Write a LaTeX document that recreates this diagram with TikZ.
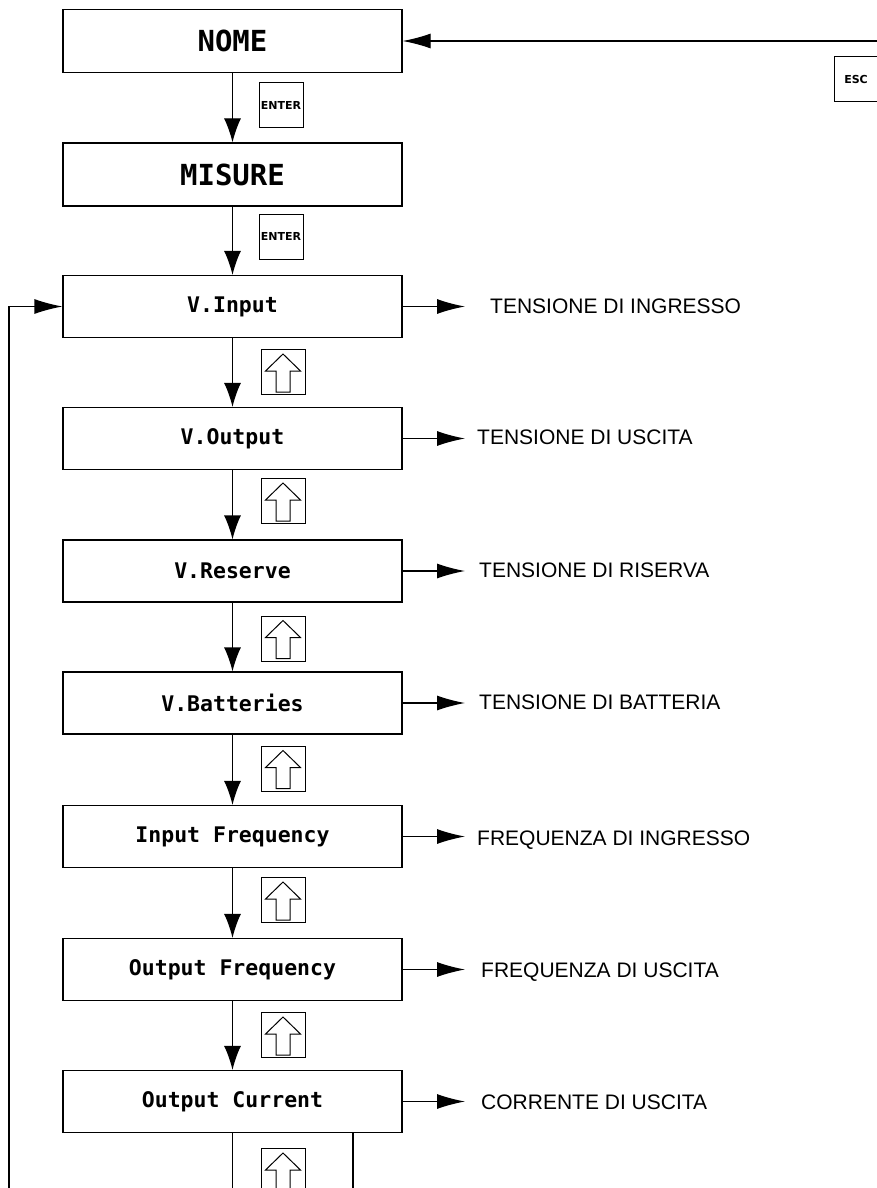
\documentclass[tikz,border=0pt]{standalone}
\usepackage{fontspec}
\setmainfont{Liberation Sans}
\newfontfamily\boxfont{DejaVu Sans Mono}
\newfontfamily\keyfont{DejaVu Sans}
\usetikzlibrary{arrows.meta}
\tikzset{
  box/.style={draw, line width=1.2pt, minimum width=339pt, minimum height=62pt, inner sep=0pt},
  bigtxt/.style={font=\boxfont\bfseries\fontsize{29}{29}\selectfont},
  smalltxt/.style={font=\boxfont\bfseries\fontsize{21.5}{21.5}\selectfont},
  keybox/.style={draw, line width=1pt, minimum width=44pt, minimum height=45pt, inner sep=0pt,
                 font=\keyfont\bfseries\fontsize{11}{11}\selectfont},
  lbl/.style={anchor=west, inner sep=0pt, text height=15pt, text depth=0pt,
              font=\fontsize{21}{21}\selectfont},
  conn/.style={line width=1.2pt},
  varr/.style={conn, -{Latex[length=24pt,width=17pt]}},
  harr/.style={conn, -{Latex[length=28pt,width=15pt]}},
  upicon/.pic={\draw[line width=1pt] (-7,20) -- (-7,-1) -- (-17.5,-1) -- (0,-18) -- (17.5,-1) -- (7,-1) -- (7,20) -- cycle;}
}
\begin{document}
\begin{tikzpicture}[x=1pt,y=-1pt]
\useasboundingbox (0,0) rectangle (877,1188);
\clip (0,0) rectangle (877,1188);
\fill[white] (0,0) rectangle (877,1188);

% main boxes
\node[box, minimum height=63pt, bigtxt] (nome) at (232.5,41) {NOME};
\node[box, minimum height=63pt, bigtxt] (mis) at (232.5,174.5) {MISURE};
\node[box, smalltxt] (vin)  at (232.5,306.5) {V.Input};
\node[box, smalltxt] (vout) at (232.5,438.5) {V.Output};
\node[box, smalltxt] (vres) at (232.5,571) {V.Reserve};
\node[box, smalltxt] (vbat) at (232.5,703) {V.Batteries};
\node[box, smalltxt] (ifr)  at (232.5,836.5) {Input Frequency};
\node[box, smalltxt] (ofr)  at (232.5,969.5) {Output Frequency};
\node[box, smalltxt] (oc)   at (232.5,1101.5) {Output Current};

% key boxes
\node[keybox] (e1) at (281,105.5) {ENTER};
\node[keybox] (e2) at (281,236.5) {ENTER};
\node[keybox] (esc) at (856,79.5) {ESC};
\node[keybox] (u1) at (283,372) {};
\node[keybox] (u2) at (283,501) {};
\node[keybox] (u3) at (283,638.5) {};
\node[keybox] (u4) at (283,768.5) {};
\node[keybox] (u5) at (283,900) {};
\node[keybox] (u6) at (283,1035) {};
\node[keybox] (u7) at (283,1171) {};
\foreach \u in {u1,u2,u3,u4,u5,u6,u7} { \pic at (\u.center) {upicon}; }

% vertical arrows
\draw[varr] (nome) -- (mis);
\draw[varr] (mis) -- (vin);
\draw[varr] (vin) -- (vout);
\draw[varr] (vout) -- (vres);
\draw[varr] (vres) -- (vbat);
\draw[varr] (vbat) -- (ifr);
\draw[varr] (ifr) -- (ofr);
\draw[varr] (ofr) -- (oc);

% ESC return line
\coordinate (escin) at (877,41);
\draw[harr] (escin) -- (nome.east);

% left loop
\coordinate (lb) at (9,1188);
\draw[harr] (lb) |- (vin.west);

% bottom lines
\coordinate (b1) at (232.5,1188);
\coordinate (b2) at (353,1188);
\draw[conn] (oc.south) -- (b1);
\draw[conn] (oc.south -| b2) -- (b2);

% labels
\coordinate (t1) at (465,306.5);
\coordinate (t2) at (465,438.5);
\coordinate (t3) at (465,571);
\coordinate (t4) at (465,703);
\coordinate (t5) at (465,836.5);
\coordinate (t6) at (465,969.5);
\coordinate (t7) at (465,1101.5);
\draw[harr] (vin.east) -- (t1);
\draw[harr] (vout.east) -- (t2);
\draw[harr] (vres.east) -- (t3);
\draw[harr] (vbat.east) -- (t4);
\draw[harr] (ifr.east) -- (t5);
\draw[harr] (ofr.east) -- (t6);
\draw[harr] (oc.east) -- (t7);
\node[lbl] (l1) at (490,306) {TENSIONE DI INGRESSO};
\node[lbl] (l2) at (477,437) {TENSIONE DI USCITA};
\node[lbl] (l3) at (479,570) {TENSIONE DI RISERVA};
\node[lbl] (l4) at (479,702) {TENSIONE DI BATTERIA};
\node[lbl] (l5) at (477,838) {FREQUENZA DI INGRESSO};
\node[lbl] (l6) at (481,970) {FREQUENZA DI USCITA};
\node[lbl] (l7) at (481,1102) {CORRENTE DI USCITA};
\end{tikzpicture}
\end{document}
